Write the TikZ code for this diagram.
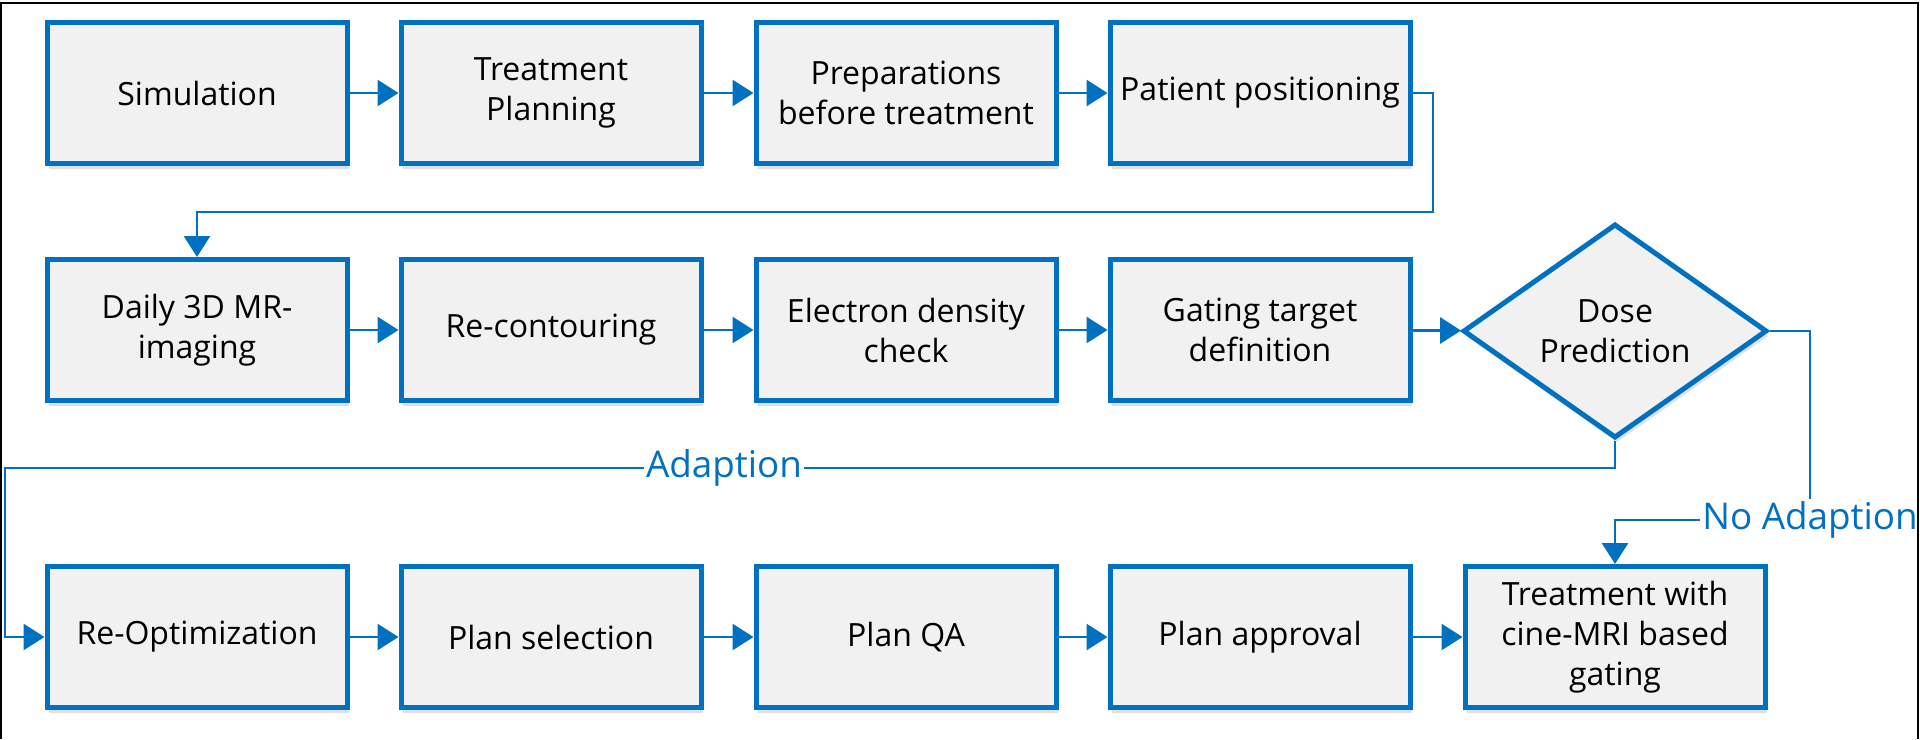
\documentclass[tikz,border=0pt]{standalone}
\usepackage{fontspec}
\setmainfont{Open Sans}
\usetikzlibrary{arrows.meta,shapes.geometric,shadows}
\definecolor{flowblue}{RGB}{0,112,192}
\definecolor{boxfill}{RGB}{242,241,242}

\begin{document}
\begin{tikzpicture}[x=0.5pt,y=-0.5pt,
  stepbox/.style={draw=flowblue, line width=2.5pt, fill=boxfill,
    minimum width=150pt, minimum height=70.5pt, inner sep=2pt,
    align=center, font=\fontsize{16}{20}\selectfont,
    drop shadow={shadow xshift=1pt, shadow yshift=-2.5pt, opacity=0.2, fill=black!60}},
  decision/.style={stepbox, shape=diamond, inner sep=0pt,
    minimum width=152pt, minimum height=91.5pt},
  link/.style={draw=flowblue, line width=1.4pt},
  arrowlink/.style={link, -{Triangle[length=10.5pt,width=13pt]}},
  tag/.style={text=flowblue, font=\fontsize{18.4}{22}\selectfont, inner sep=1pt}
]
\useasboundingbox (0,0) rectangle (1920,739);
% outer frame (open at the bottom)
\draw[line width=1pt] (1,739) -- (1,2.5) -- (1918,2.5) -- (1918,739);

% first row
\node[stepbox] (sim)  at (197,93)  {Simulation};
\node[stepbox] (plan) at (551,93)  {Treatment\\Planning};
\node[stepbox] (prep) at (906,93)  {Preparations\\before treatment};
\node[stepbox] (pos)  at (1260,93) {Patient positioning};

% second row
\node[stepbox] (daily)  at (197,330)  {Daily 3D MR-\\imaging};
\node[stepbox] (recont) at (551,330)  {Re-contouring};
\node[stepbox] (edens)  at (906,330)  {Electron density\\check};
\node[stepbox] (gate)   at (1260,330) {Gating target\\definition};
\node[decision] (dose)  at (1615,331) {Dose\\Prediction};

% third row
\node[stepbox] (reopt)   at (197,637)  {Re-Optimization};
\node[stepbox] (psel)    at (551,637)  {Plan selection};
\node[stepbox] (pqa)     at (906,637)  {Plan QA};
\node[stepbox] (papp)    at (1260,637) {Plan approval};
\node[stepbox] (treat)   at (1615,637) {Treatment with\\cine-MRI based\\gating};

% branch labels
\node[tag] (adapt)   at (724,468)  {Adaption};
\node[tag] (noadapt) at (1810,520) {No Adaption};

% straight flow
\draw[arrowlink] (sim) -- (plan);
\draw[arrowlink] (plan) -- (prep);
\draw[arrowlink] (prep) -- (pos);
\draw[arrowlink] (daily) -- (recont);
\draw[arrowlink] (recont) -- (edens);
\draw[arrowlink] (edens) -- (gate);
\draw[arrowlink] (gate) -- (dose);
\draw[arrowlink] (reopt) -- (psel);
\draw[arrowlink] (psel) -- (pqa);
\draw[arrowlink] (pqa) -- (papp);
\draw[arrowlink] (papp) -- (treat);

% row wrap from positioning to daily imaging
\coordinate (wrap) at (1433,212);
\draw[arrowlink] (pos.east) -| (wrap) -| (daily.north);

% no adaption branch
\draw[link] (dose.east) -| (noadapt.north);
\draw[arrowlink] (noadapt.west) -| (treat.north);

% adaption branch
\coordinate (leftrun) at (5,468);
\draw[link] (dose.south) |- (adapt.east);
\draw[arrowlink] (adapt.west) -- (leftrun) |- (reopt.west);
\end{tikzpicture}
\end{document}
